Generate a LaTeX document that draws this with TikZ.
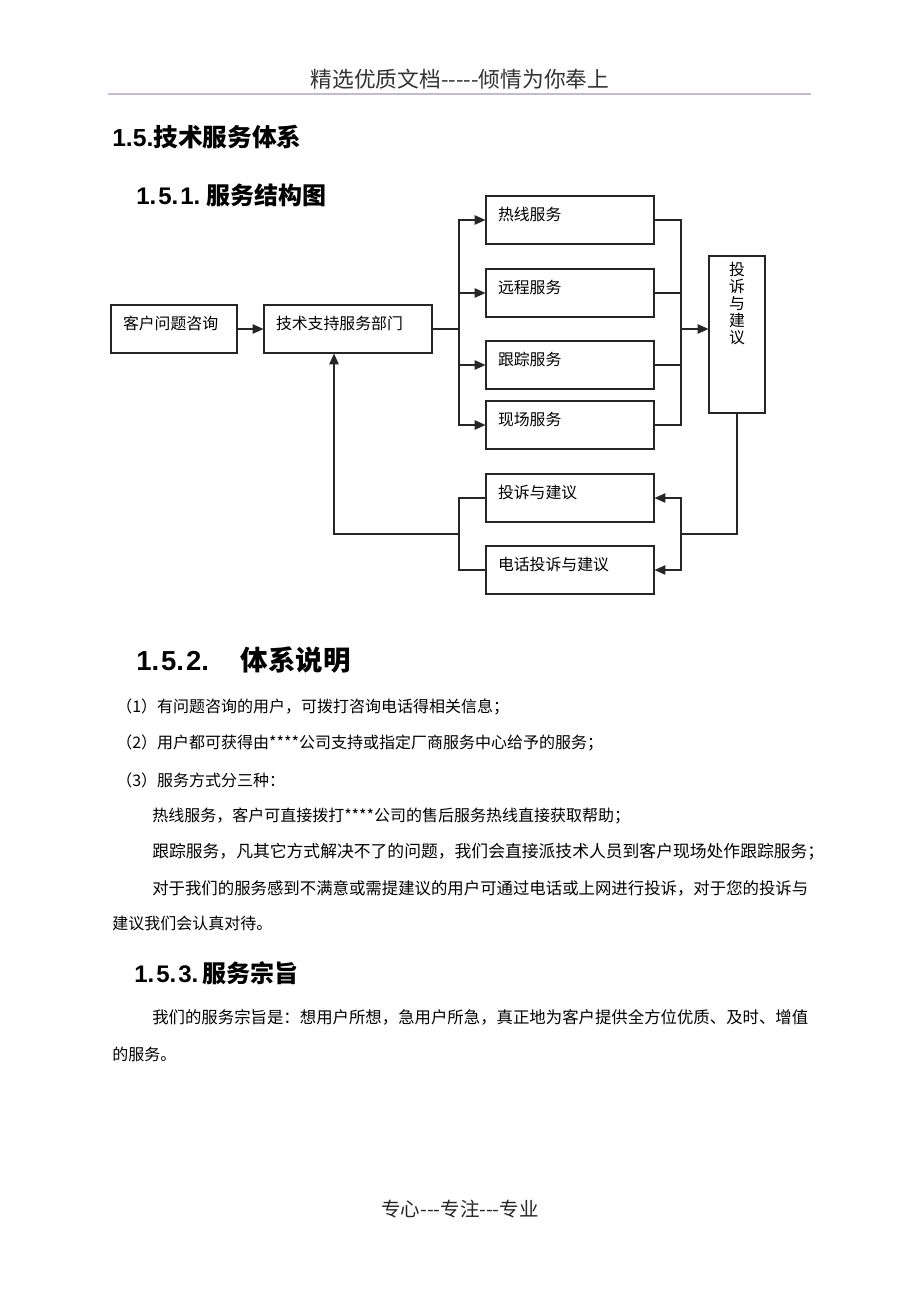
\documentclass[tikz,border=0pt]{standalone}
\usepackage{fontspec}
\setmainfont{Liberation Serif}
\newfontfamily\cjk{Noto Sans CJK SC}
\newfontfamily\arial{Liberation Sans}
\usetikzlibrary{arrows.meta}
\definecolor{rulegray}{RGB}{196,188,204}
\begin{document}
\begin{tikzpicture}[x=0.75pt,y=-0.75pt,
    box/.style={draw=black!85,line width=0.9pt,inner xsep=9pt,inner ysep=0pt,
        minimum height=36pt,text height=8pt,text depth=8pt,align=left,
        font=\cjk\fontsize{11.9}{14}\selectfont},
    conn/.style={draw=black!85,line width=0.9pt},
    arr/.style={conn,-{Triangle[length=8pt,width=7pt]}},
    body/.style={anchor=west,inner sep=0pt,font=\cjk\fontsize{12}{14}\selectfont},
    head/.style={anchor=west,inner sep=0pt,font=\bfseries\fontsize{18}{22}\selectfont}]
\useasboundingbox (0,0) rectangle (920,1302);
\fill[white] (0,0) rectangle (920,1302);
% page header and footer
\node[font=\cjk\fontsize{16.3}{18}\selectfont,text=black!80] (hdr) at (460,79) {精选优质文档-----倾情为你奉上};
\draw[rulegray,line width=1pt] (108,94) -- (811,94);
\node[font=\cjk\fontsize{14.6}{16}\selectfont,text=black!85] (ftr) at (460,1209) {专心---专注---专业};
% headings
\node[head,font=\bfseries\fontsize{18.5}{22}\selectfont] (h15) at (112,137) {\arial 1.5.\cjk 技术服务体系};
\node[head] (h151) at (136,195) {\arial 1.\hspace{1.5pt}5.\hspace{1.5pt}1.\hspace{5pt}\cjk 服务结构图};
\node[head,font=\bfseries\fontsize{20.6}{24}\selectfont] (h152) at (136,660) {\arial 1.\hspace{1.5pt}5.\hspace{1.5pt}2.\hspace{24pt}\cjk 体系说明};
\node[head] (h153) at (134,973) {\arial 1.\hspace{1.5pt}5.\hspace{1.5pt}3.\hspace{3pt}\cjk 服务宗旨};
% boxes
\node[box,text width=76.5pt] (client) at (174,329) {客户问题咨询};
\node[box,text width=108pt] (tech) at (348,329) {技术支持服务部门};
\node[box,text width=108pt] (hot) at (570,220) {热线服务};
\node[box,text width=108pt] (remote) at (570,293) {远程服务};
\node[box,text width=108pt] (track) at (570,365) {跟踪服务};
\node[box,text width=108pt] (site) at (570,425) {现场服务};
\node[box,text width=108pt] (web) at (570,498) {投诉与建议};
\node[box,text width=108pt] (phone) at (570,570) {电话投诉与建议};
\node[box,minimum width=42pt,minimum height=117.75pt,inner xsep=0pt] (comp) at (737,334.5) {};
\node[anchor=north,align=center,inner sep=0pt,font=\cjk\fontsize{11.9}{12.75}\selectfont] (comptxt) at ([yshift=-5pt]comp.north) {投\\诉\\与\\建\\议};
% connectors
\coordinate (br) at (459,329);
\coordinate (cr) at (681,329);
\coordinate (cb) at (681,534);
\coordinate (cl) at (459,534);
\coordinate (up) at (334,534);
\draw[arr] (client) -- (tech);
\foreach \s in {hot,remote,track,site}
  \draw[arr] (tech.east) -- (br) |- (\s.west);
\foreach \s in {hot,remote,track,site}
  \draw[conn] (\s.east) -| (cr);
\draw[arr] (cr) -- (cr -| comp.west);
\draw[conn] (comp.south) |- (cb);
\draw[arr] (cb) |- (web.east);
\draw[arr] (cb) |- (phone.east);
\draw[conn] (web.west) -| (cl);
\draw[conn] (phone.west) -| (cl);
\draw[arr] (cl) -- (up) -- (up |- tech.south);
% text
\node[body] (l1) at (116,707) {（1）有问题咨询的用户，可拨打咨询电话得相关信息；};
\node[body] (l2) at (116,743) {（2）用户都可获得由****公司支持或指定厂商服务中心给予的服务；};
\node[body] (l3) at (116,780) {（3）服务方式分三种：};
\node[body] (l4) at (152,816) {热线服务，客户可直接拨打****公司的售后服务热线直接获取帮助；};
\node[body,font=\cjk\fontsize{12.6}{14}\selectfont] (l5) at (152,852) {跟踪服务，凡其它方式解决不了的问题，我们会直接派技术人员到客户现场处作跟踪服务；};
\node[body,font=\cjk\fontsize{12.3}{14}\selectfont] (l6) at (152,888) {对于我们的服务感到不满意或需提建议的用户可通过电话或上网进行投诉，对于您的投诉与};
\node[body] (l7) at (112,923) {建议我们会认真对待。};
\node[body,font=\cjk\fontsize{12.3}{14}\selectfont] (l8) at (152,1017) {我们的服务宗旨是：想用户所想，急用户所急，真正地为客户提供全方位优质、及时、增值};
\node[body] (l9) at (112,1054) {的服务。};
\end{tikzpicture}
\end{document}
